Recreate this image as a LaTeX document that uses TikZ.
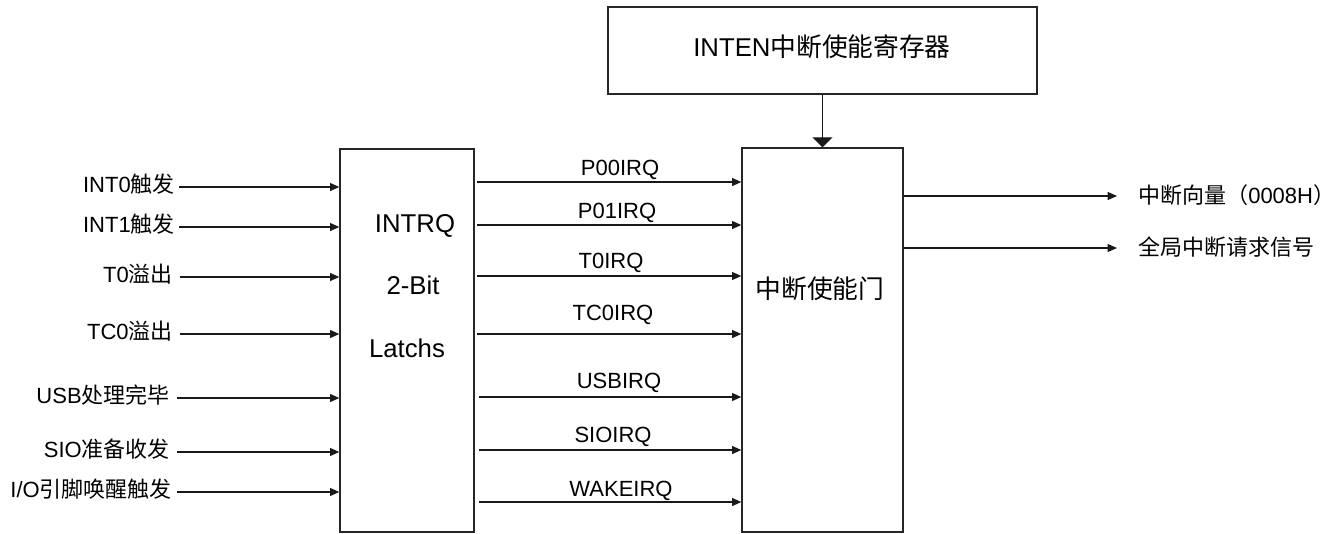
\documentclass[tikz,border=0pt]{standalone}
\usepackage{fontspec}
\setmainfont{Liberation Sans}
\newfontfamily\cjk{Noto Sans CJK SC}
\usetikzlibrary{arrows.meta}
\newcommand\zh[1]{{\cjk #1}}
\tikzset{
  wire/.style={line width=0.9pt, draw=black!90},
  arr/.style={wire, -{Triangle[length=7pt,width=6pt]}},
  bigarr/.style={wire, -{Triangle[length=7.5pt,width=15pt]}},
  blk/.style={draw=black!85, line width=1pt, rectangle, inner sep=0pt},
  lbl/.style={inner sep=0pt, font=\fontsize{16.5pt}{18pt}\selectfont},
  big/.style={inner sep=0pt, font=\fontsize{19.3pt}{22pt}\selectfont},
}
\begin{document}
\begin{tikzpicture}[x=0.75pt, y=-0.75pt]
\useasboundingbox (0,0) rectangle (1343,533);

% blocks
\node[blk, minimum width=321.75pt, minimum height=65.25pt] (inten) at (822.5,50.5) {};
\node[big] (intentext) at (822,47) {INTEN\zh{中断使能寄存器}};
\node[blk, minimum width=100.5pt, minimum height=287.25pt] (latch) at (407,340.5) {};
\node[blk, minimum width=120.75pt, minimum height=288pt] (gate) at (822.5,340) {};

% block captions
\node[big, anchor=base] (l1) at (415,232) {INTRQ};
\node[big, anchor=base] (l2) at (413,294) {2-Bit};
\node[big, anchor=base] (l3) at (407,357) {Latchs};
\node[big] (gtext) at (820,289) {\zh{中断使能门}};

% register to gate
\draw[bigarr] (inten.south) -- (gate.north);

% interrupt sources into the latches
\foreach \name/\txt/\xe/\xs/\y in {
  s1/{INT0\zh{触发}}/175/179/187,
  s2/{INT1\zh{触发}}/175/179/227,
  s3/{T0\zh{溢出}}/173/180/277,
  s4/{TC0\zh{溢出}}/173/180/334,
  s5/{USB\zh{处理完毕}}/170/177/398,
  s6/{SIO\zh{准备收发}}/170/177/452,
  s7/{I/O\zh{引脚唤醒触发}}/172/177/492}
{
  \node[lbl, anchor=base east] (\name) at (\xe,\y+5) {\txt};
  \coordinate (\name s) at (\xs,\y);
  \draw[arr] (\name s) -- (\name s -| latch.west);
}

% latched requests into the enable gate
\foreach \name/\txt/\cx/\base/\xs/\y in {
  q1/P00IRQ/620/175/477/182,
  q2/P01IRQ/617/218/477/225,
  q3/T0IRQ/611/268/477/276,
  q4/TC0IRQ/613/320/477/334,
  q5/USBIRQ/619/388/479/397,
  q6/SIOIRQ/613/442/479/450,
  q7/WAKEIRQ/621/496/479/502}
{
  \node[lbl, anchor=base] (\name) at (\cx,\base) {\txt};
  \coordinate (\name s) at (\xs,\y);
  \draw[arr] (\name s) -- (\name s -| gate.west);
}

% gate outputs
\coordinate (v1) at (1117,196);
\coordinate (v2) at (1117,248);
\draw[arr] (v1 -| gate.east) -- (v1);
\draw[arr] (v2 -| gate.east) -- (v2);
\node[lbl, anchor=west] (o1) at (1138,195) {\zh{中断向量（}0008H\zh{）}};
\node[lbl, anchor=west] (o2) at (1138,247) {\zh{全局中断请求信号}};
\end{tikzpicture}
\end{document}
